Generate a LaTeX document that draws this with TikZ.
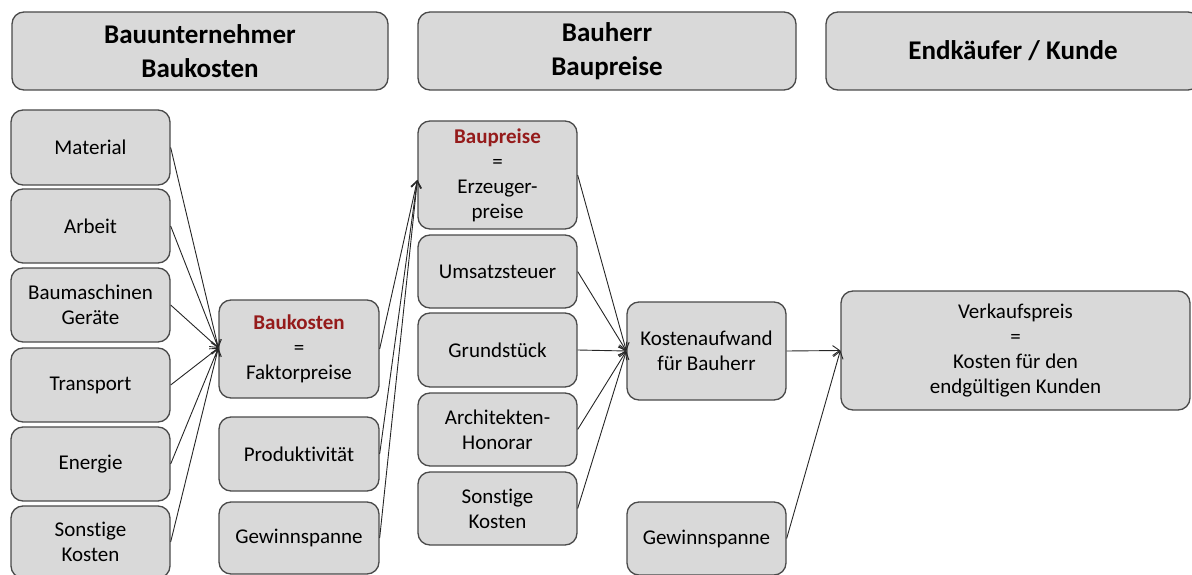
\documentclass[tikz,border=0pt]{standalone}
\usepackage{fontspec}
\setmainfont{Carlito}[Ligatures=NoCommon]
\usetikzlibrary{arrows.meta,calc}
\definecolor{boxfill}{HTML}{D9D9D9}
\definecolor{boxline}{HTML}{4A4A4A}
\definecolor{darkred}{HTML}{951B1B}
\begin{document}
\begin{tikzpicture}[x=1pt,y=-1pt,
  box/.style={draw=boxline, line width=1.3pt, fill=boxfill, rounded corners=12pt,
     align=center, inner sep=2pt, font=\fontsize{21}{25}\selectfont},
  head/.style={box, font=\bfseries\fontsize{27}{34}\selectfont},
  conn/.style={line width=0.9pt, draw=black!85, -{Straight Barb[length=7pt,width=10pt]}}]
\useasboundingbox (0,0) rectangle (1192,575);
\clip (0,0) rectangle (1192,575);
% headers
\node[head, minimum width=376pt, minimum height=78pt] (h1) at (200,51) {\raisebox{-3pt}{\parbox{300pt}{\centering Bauunternehmer\\Baukosten}}};
\node[head, minimum width=378pt, minimum height=78pt] (h2) at (607,51) {\raisebox{-3pt}{\parbox{300pt}{\centering Bauherr\\Baupreise}}};
\node[head, minimum width=374pt, minimum height=78pt] (h3) at (1013,51) {\raisebox{-2pt}{Endkäufer / Kunde}};
% column 1
\node[box, minimum width=159pt, minimum height=75pt] (mat) at (90.5,147.5) {Material};
\node[box, minimum width=159pt, minimum height=74pt] (arb) at (90.5,226) {Arbeit};
\node[box, minimum width=159pt, minimum height=74pt] (bm) at (90.5,305) {Baumaschinen\\Geräte};
\node[box, minimum width=159pt, minimum height=74pt] (tra) at (90.5,385) {Transport};
\node[box, minimum width=159pt, minimum height=74pt] (ene) at (90.5,464) {Energie};
\node[box, minimum width=159pt, minimum height=72pt] (son) at (90.5,542) {Sonstige\\Kosten};
% column 2
\node[box, minimum width=160pt, minimum height=98pt] (bk) at (299,349) {\textcolor{darkred}{\bfseries Baukosten}\\=\\Faktorpreise};
\node[box, minimum width=160pt, minimum height=74pt] (prod) at (299,454) {Produktivität};
\node[box, minimum width=160pt, minimum height=72pt] (gew) at (299,538) {Gewinnspanne};
% column 3
\node[box, minimum width=159pt, minimum height=108pt] (bp) at (497.5,175) {\textcolor{darkred}{\bfseries Baupreise}\\=\\Erzeuger-\\preise};
\node[box, minimum width=159pt, minimum height=73pt] (ust) at (497.5,271.5) {Umsatzsteuer};
\node[box, minimum width=159pt, minimum height=74pt] (gru) at (497.5,350) {Grundstück};
\node[box, minimum width=159pt, minimum height=73pt] (arc) at (497.5,429.5) {Architekten-\\Honorar};
\node[box, minimum width=159pt, minimum height=73pt] (son2) at (497.5,508.5) {Sonstige\\Kosten};
% column 4
\node[box, minimum width=159pt, minimum height=98pt] (ka) at (706.5,351) {Kostenaufwand\\für Bauherr};
\node[box, minimum width=159pt, minimum height=73pt] (gew2) at (706.5,538.5) {Gewinnspanne};
% column 5
\node[box, minimum width=349pt, minimum height=119pt] (vk) at (1015.5,350.5) {Verkaufspreis\\=\\Kosten für den\\endgültigen Kunden};
% connectors
\coordinate (bkin) at ($(bk.west)+(0,-1)$);
\coordinate (bpin) at ($(bp.west)+(0,5)$);
\foreach \n in {mat,arb,bm,tra,ene,son} \draw[conn] (\n.east) -- (bkin);
\foreach \n in {bk,prod,gew} \draw[conn] (\n.east) -- (bpin);
\foreach \n in {bp,ust,gru,arc,son2} \draw[conn] (\n.east) -- (ka.west);
\draw[conn] (ka.east) -- (vk.west);
\draw[conn] (gew2.east) -- (vk.west);
\end{tikzpicture}
\end{document}
